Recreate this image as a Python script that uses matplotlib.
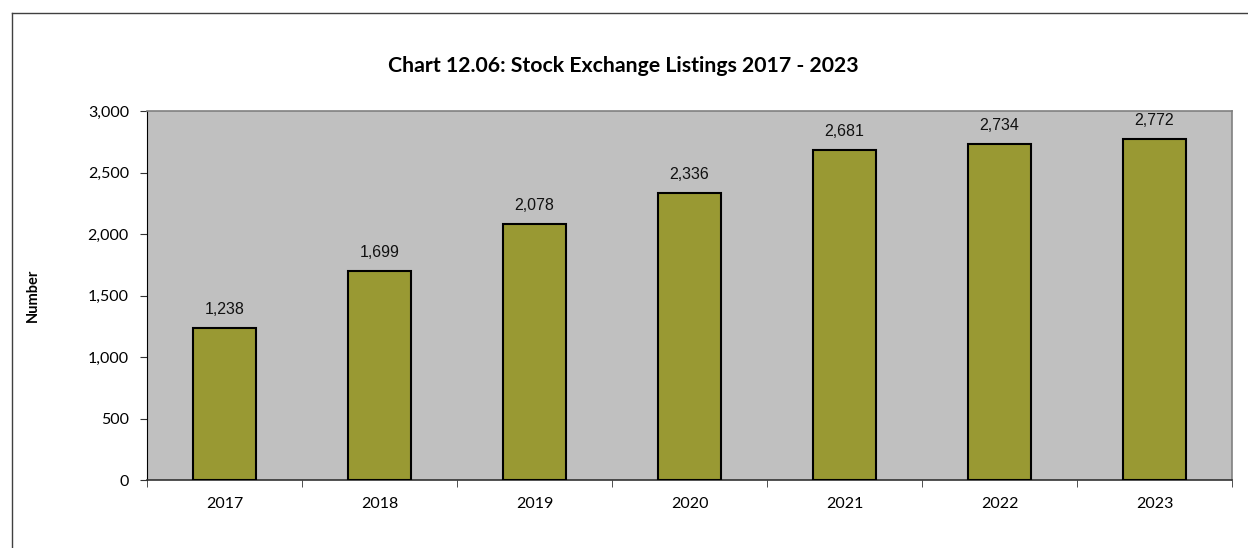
import matplotlib
matplotlib.use("Agg")
import matplotlib.pyplot as plt
from matplotlib.lines import Line2D
import numpy as np

years = ["2017", "2018", "2019", "2020", "2021", "2022", "2023"]
listings = [1238, 1699, 2078, 2336, 2681, 2734, 2772]
yticks = [0, 500, 1000, 1500, 2000, 2500, 3000]

fig = plt.figure(figsize=(12.48, 5.48), dpi=100)
ax = fig.add_axes([147/1248, 1-480/548, (1232-147)/1248, (480-111)/548])
ax.set_facecolor("#C0C0C0")

x = np.arange(len(years))
ax.bar(x, listings, width=0.41, color="#999933", edgecolor="black", linewidth=1.5, zorder=3)
for xi, v in zip(x, listings):
    ax.text(xi, v + 90, f"{v:,}", ha="center", va="bottom", fontsize=11.5,
            family="Liberation Sans", color="#111111")

ax.set_xlim(-0.5, len(years) - 0.5)
ax.set_ylim(0, 3000)
ax.set_yticks(yticks)
ax.set_yticklabels([f"{t:,}" for t in yticks], fontsize=11.5, family="Lato")
ax.set_xticks(x)
ax.set_xticklabels(years, fontsize=11.5, family="Lato")
ax.tick_params(axis="x", length=0, pad=12)
ax.set_xticks(np.arange(-0.5, len(years)), minor=True)
ax.tick_params(axis="x", which="minor", length=5, direction="out", color="#333333")
ax.tick_params(axis="y", length=5, direction="out", color="#333333", pad=8)

for s in ["top", "right"]:
    ax.spines[s].set_color("#808080")
    ax.spines[s].set_linewidth(1.2)
ax.spines["left"].set_color("black")
ax.spines["bottom"].set_color("#333333")
ax.spines["bottom"].set_linewidth(1.2)

fig.text(623/1248, 1-66/548, "Chart 12.06: Stock Exchange Listings 2017 - 2023",
         ha="center", va="center", fontsize=15.3, fontweight="bold", family="Lato")
fig.text(33/1248, 1-295/548, "Number", ha="center", va="center", rotation=90,
         fontsize=10.5, fontweight="bold", family="Lato")

fig.add_artist(Line2D([12/1248, 1], [1-13/548, 1-13/548], color="#404040", lw=1, transform=fig.transFigure))
fig.add_artist(Line2D([12/1248, 12/1248], [0, 1-13/548], color="#404040", lw=1, transform=fig.transFigure))

fig.savefig("out.png", dpi=100)
